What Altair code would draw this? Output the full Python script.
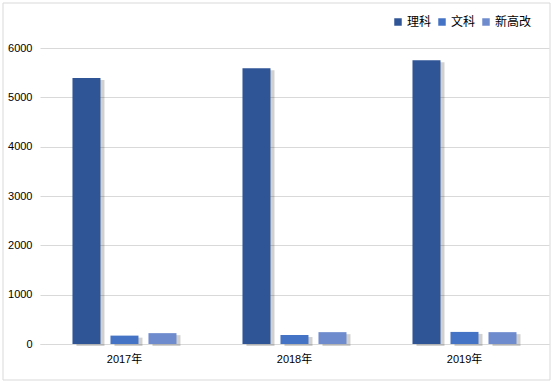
import altair as alt
import pandas as pd

years = ["2017年", "2018年", "2019年"]
subjects = ["理科", "文科", "新高改"]
li_ke = [5390, 5590, 5750]
wen_ke = [170, 180, 245]
xin_gao_gai = [220, 240, 240]
colors = ["#2F5597", "#4472C4", "#6E8BCE"]

rows = []
for i, y in enumerate(years):
    for s, vals in zip(subjects, [li_ke, wen_ke, xin_gao_gai]):
        rows.append({"year": y, "subject": s, "value": vals[i]})
df = pd.DataFrame(rows)

FONT = "Liberation Sans, Noto Sans CJK SC, sans-serif"

x_enc = alt.X("year:N", sort=years, title=None,
              scale=alt.Scale(paddingInner=0.388, paddingOuter=0.191),
              axis=alt.Axis(labelAngle=0, ticks=False, domainColor="#d9d9d9",
                            labelPadding=9, labelFontSize=11, labelColor="#000",
                            labelFont=FONT))
y_enc = alt.Y("value:Q", title=None,
              scale=alt.Scale(domain=[0, 6000], nice=False),
              axis=alt.Axis(values=[0, 1000, 2000, 3000, 4000, 5000, 6000],
                            format="d",
                            ticks=False, domain=False, gridColor="#d9d9d9",
                            labelPadding=8, labelFontSize=11, labelColor="#000",
                            labelFont=FONT))

shadow = alt.Chart(df).mark_bar(color="#000000", opacity=0.18, yOffset=2).encode(
    x=x_enc,
    xOffset=alt.XOffset("subject:N", sort=subjects,
                        scale=alt.Scale(paddingInner=0.263, paddingOuter=0, range=[4, 108])),
    y=y_enc,
)

bars = alt.Chart(df).mark_bar().encode(
    x=x_enc,
    xOffset=alt.XOffset("subject:N", sort=subjects,
                        scale=alt.Scale(paddingInner=0.263, paddingOuter=0, range=[0, 104])),
    y=y_enc,
    color=alt.Color("subject:N", sort=subjects,
                    scale=alt.Scale(domain=subjects, range=colors),
                    legend=alt.Legend(title=None, orient="none", direction="horizontal",
                                      legendX=352, legendY=-32, symbolType="square",
                                      symbolSize=56, symbolStrokeWidth=0,
                                      labelFontSize=12, labelFont=FONT, labelColor="#000",
                                      labelOffset=3, columnPadding=4, padding=0)),
)

frame = alt.Chart(pd.DataFrame({"a": [0]})).mark_rect(
    fill=None, stroke="#d9d9d9", strokeWidth=1).encode(
    x=alt.value(-37), x2=alt.value(510), y=alt.value(-45), y2=alt.value(332))

chart = alt.layer(frame, shadow, bars).resolve_scale(xOffset="independent").properties(
    width=509, height=296,
    autosize=alt.AutoSizeParams(type="none"),
    padding={"left": 40, "top": 48, "right": 7, "bottom": 43},
    background="#ffffff",
).configure_view(stroke=None)

chart.save("out.html", embed_options={"renderer": "svg", "actions": False})
